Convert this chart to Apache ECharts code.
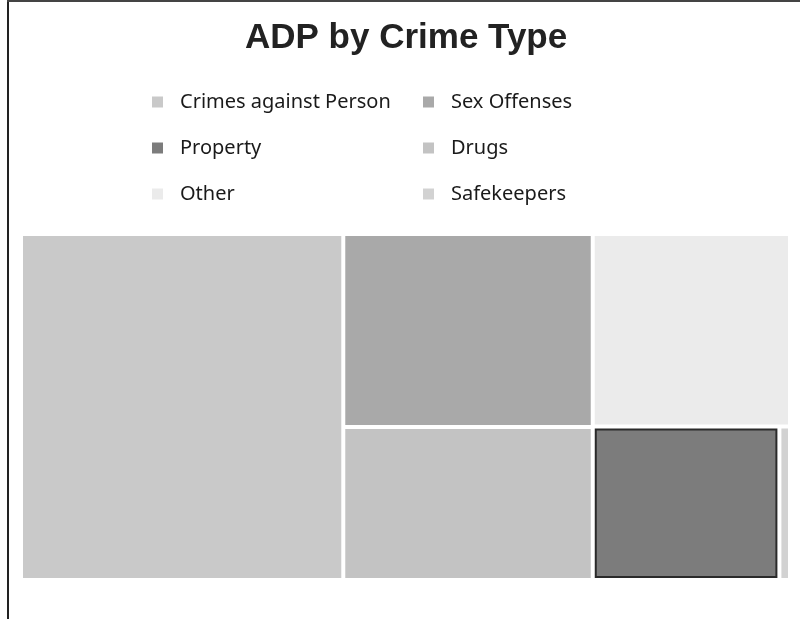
<!DOCTYPE html>
<html>
<head>
<meta charset="utf-8">
<script src="https://cdn.jsdelivr.net/npm/echarts@6/dist/echarts.min.js"></script>
<style>html,body{margin:0;padding:0;background:#fff;}#chart{width:800px;height:619px;}</style>
</head>
<body>
<div id="chart"></div>
<script>
const categories = ['Crimes against Person', 'Sex Offenses', 'Property', 'Drugs', 'Other', 'Safekeepers'];
const adpValues = [1098, 474, 282, 376, 374, 16];
const colors = ['#c9c9c9', '#a9a9a9', '#7c7c7c', '#c3c3c3', '#ebebeb', '#d2d2d2'];
const legendCol1 = ['Crimes against Person', 'Property', 'Other'];
const legendCol2 = ['Sex Offenses', 'Drugs', 'Safekeepers'];

const chart = echarts.init(document.getElementById('chart'));
const treeData = categories.map((c, i) => {
  const d = { name: c, value: adpValues[i], itemStyle: { color: colors[i] } };
  if (c === 'Property') { d.itemStyle.borderColor = '#2a2a2a'; d.itemStyle.borderWidth = 2; }
  return d;
});
const legendBase = {
  orient: 'vertical', top: 90, padding: 0, itemGap: 22,
  icon: 'rect', itemWidth: 11, itemHeight: 11, selectedMode: false,
  textStyle: { fontFamily: 'Noto Sans', fontSize: 20, color: '#1a1a1a', lineHeight: 24, padding: [0, 0, 0, 12] }
};
chart.setOption({
  backgroundColor: '#fff',
  title: {
    text: 'ADP by Crime Type', left: 240, top: 16,
    textStyle: { fontFamily: 'Liberation Sans', fontWeight: 'bold', fontSize: 35, color: '#222' }
  },
  legend: [
    Object.assign({}, legendBase, { left: 152, data: legendCol1 }),
    Object.assign({}, legendBase, { left: 423, data: legendCol2 })
  ],
  graphic: [
    { type: 'rect', shape: { x: 7, y: 0, width: 2, height: 619 }, style: { fill: '#222' }, silent: true },
    { type: 'rect', shape: { x: 7, y: 0, width: 793, height: 2 }, style: { fill: '#444' }, silent: true }
  ],
  series: [
    {
      type: 'pie', radius: [0, 0], center: [-100, -100], silent: true,
      label: { show: false }, labelLine: { show: false },
      data: categories.map((c, i) => ({ name: c, value: adpValues[i], itemStyle: { color: colors[i] } }))
    },
    {
      type: 'treemap', left: 23, top: 236, right: 12, bottom: 41,
      roam: false, nodeClick: false, breadcrumb: { show: false },
      label: { show: false }, upperLabel: { show: false },
      levels: [{ itemStyle: { gapWidth: 4, borderWidth: 0 } }],
      data: treeData
    }
  ]
});
</script>
</body>
</html>
